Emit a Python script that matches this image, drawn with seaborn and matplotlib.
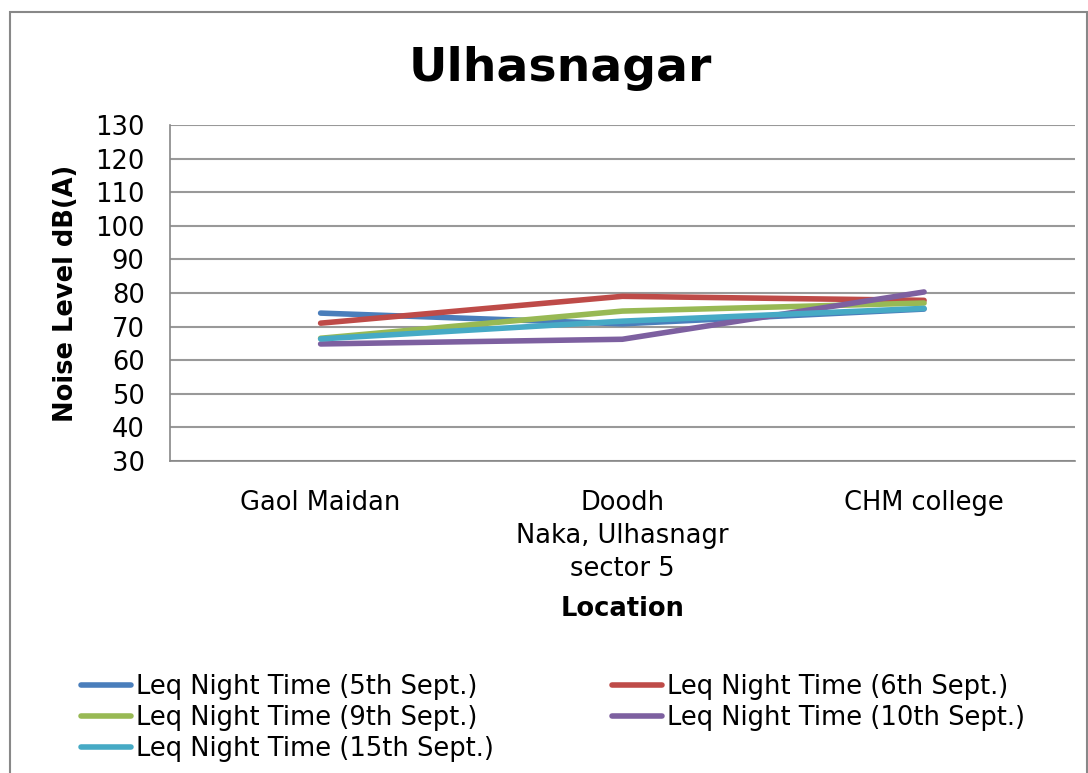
import matplotlib
matplotlib.use("Agg")
import matplotlib.pyplot as plt
from matplotlib.patches import Rectangle
import pandas as pd
import seaborn as sns

locations = ["Gaol Maidan", "Doodh\nNaka, Ulhasnagr\nsector 5", "CHM college"]
series = ["Leq Night Time (5th Sept.)", "Leq Night Time (6th Sept.)",
          "Leq Night Time (9th Sept.)", "Leq Night Time (10th Sept.)",
          "Leq Night Time (15th Sept.)"]
sept5 = [74.0, 70.8, 75.2]
sept6 = [71.0, 79.0, 77.8]
sept9 = [66.5, 74.6, 77.0]
sept10 = [64.8, 66.2, 80.3]
sept15 = [66.3, 71.6, 75.4]
colors = ["#4A7EBB", "#BE4B48", "#98B954", "#7D60A0", "#46AAC5"]

rows = []
for name, vals in zip(series, [sept5, sept6, sept9, sept10, sept15]):
    for i, v in enumerate(vals):
        rows.append({"pos": i, "Location": locations[i], "value": v, "series": name})
df = pd.DataFrame(rows)

sns.set_style("white")
plt.rcParams['font.family'] = ['DejaVu Sans']
plt.rcParams['text.color'] = 'black'
plt.rcParams['xtick.color'] = 'black'
plt.rcParams['ytick.color'] = 'black'
plt.rcParams['axes.labelcolor'] = 'black'

fig = plt.figure(figsize=(10.88, 7.73), dpi=100)
ax = fig.add_axes([0.156, 0.404, 0.832, 0.434])

sns.lineplot(data=df, x="pos", y="value", hue="series", palette=colors,
             linewidth=4, ax=ax, legend=True, sort=False)
for line in ax.lines:
    line.set_solid_capstyle("round")

ax.set_xlim(-0.5, 2.5)
ax.set_ylim(30, 130)
ax.set_yticks(range(30, 131, 10))
ax.set_xticks([0, 1, 2])
ax.set_xticklabels(locations, fontsize=18.5, linespacing=1.35)
ax.set_xticks([-0.5, 0.5, 1.5, 2.5], minor=True)
ax.tick_params(axis="x", which="major", length=0, pad=21)
ax.tick_params(axis="x", which="minor", length=6, color="#888888", width=1.2, direction="out")
ax.tick_params(axis="y", labelsize=18.5, length=6, color="#888888", width=1.2,
               labelcolor="black", direction="out", pad=12)
ax.grid(axis="y", color="#999999", linewidth=1.5)
ax.set_axisbelow(True)
for s in ["top", "right"]:
    ax.spines[s].set_visible(False)
for s in ["left", "bottom"]:
    ax.spines[s].set_color("#888888")
    ax.spines[s].set_linewidth(1.2)

ax.set_xlabel("Location", fontsize=18.5, fontweight="bold", labelpad=10)
ax.set_ylabel("Noise Level dB(A)", fontsize=18.5, fontweight="bold", labelpad=12)
fig.suptitle("Ulhasnagar", fontsize=34, fontweight="bold", x=0.515, y=0.941, va="top")

handles, labels = ax.get_legend_handles_labels()
ax.legend_.remove()
for h in handles:
    h.set_linewidth(4)
order = [0, 2, 4, 1, 3]
fig.legend([handles[i] for i in order], [labels[i] for i in order],
           loc="lower left", bbox_to_anchor=(0.053, -0.016), ncol=2,
           frameon=False, fontsize=18.5, handlelength=1.95, handletextpad=0.2,
           columnspacing=4.6, labelspacing=0.2)

fig.patches.append(Rectangle((0.009, -0.01), 0.99, 0.995, transform=fig.transFigure,
                             fill=False, edgecolor="#888888", linewidth=1.5))

fig.savefig("out.png", dpi=100)
